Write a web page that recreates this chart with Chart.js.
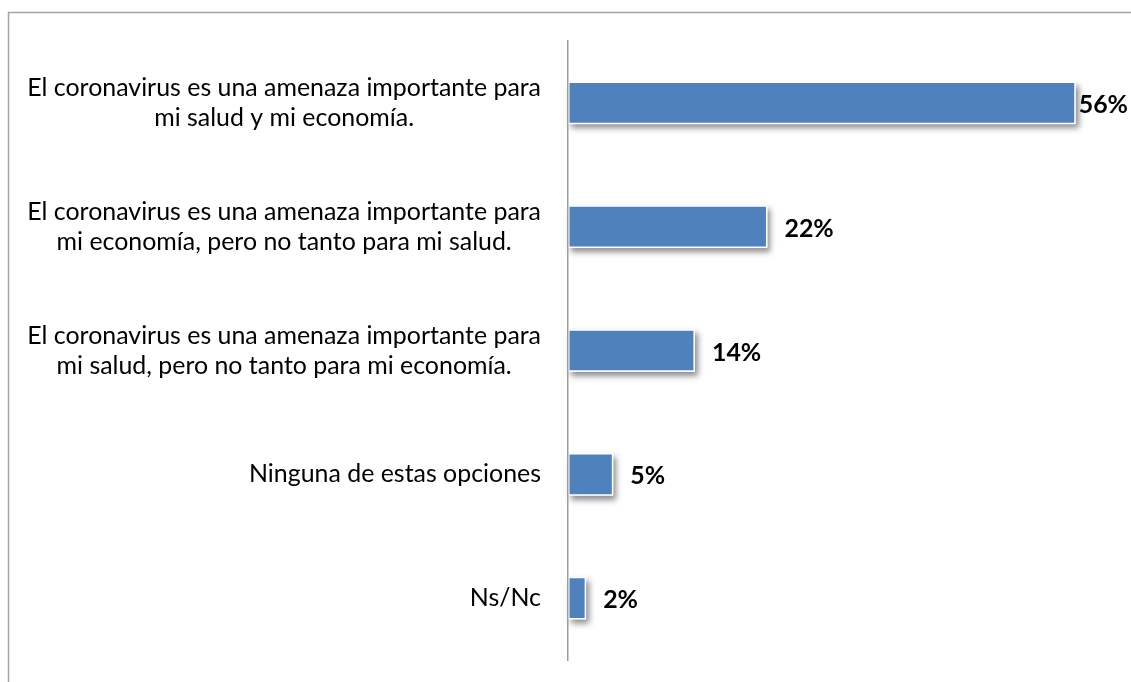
<!DOCTYPE html>
<html>
<head>
<meta charset="utf-8">
<script src="https://cdn.jsdelivr.net/npm/chart.js@4.4.1/dist/chart.umd.min.js"></script>
<style>
  html, body { margin: 0; padding: 0; background: #fff; }
  #wrap { width: 1131px; height: 682px; position: relative; }
</style>
</head>
<body>
<div id="wrap"><canvas id="c"></canvas></div>
<script>
// ---- data ----
const categories = [
  ["El coronavirus es una amenaza importante para", "mi salud y mi economía."],
  ["El coronavirus es una amenaza importante para", "mi economía, pero no tanto para mi salud."],
  ["El coronavirus es una amenaza importante para", "mi salud, pero no tanto para mi economía."],
  ["Ninguna de estas opciones"],
  ["Ns/Nc"]
];
const values = [56, 22, 14, 5, 2];
const valueLabels = values.map(v => v + '%');
const xMax = 60;

// ---- styling ----
const FONT_FAMILY = 'Lato, "Noto Sans", sans-serif';
const BAR_COLOR = '#4F81BD';
const AXIS_COLOR = '#9d9d9d';
const FRAME_COLOR = '#a3a3a3';

// pick a font size so that the longest label line is about as wide as in the reference
const mctx = document.createElement('canvas').getContext('2d');
mctx.font = '100px ' + FONT_FAMILY;
const wRef = mctx.measureText(categories[0][0]).width;
let fontSize = Math.max(20, Math.min(27, 514 / wRef * 100));
const LINE_H = 30;

const framePlugin = {
  id: 'frame',
  beforeDraw(chart) {
    const ctx = chart.ctx;
    ctx.save();
    ctx.strokeStyle = FRAME_COLOR;
    ctx.lineWidth = 1.5;
    ctx.beginPath();
    ctx.moveTo(8.5, chart.height);
    ctx.lineTo(8.5, 12.5);
    ctx.lineTo(chart.width, 12.5);
    ctx.stroke();
    ctx.restore();
  }
};

const shadowPlugin = {
  id: 'barShadow',
  beforeDatasetsDraw(chart) {
    const ctx = chart.ctx;
    const meta = chart.getDatasetMeta(0);
    ctx.save();
    ctx.shadowColor = 'rgba(0,0,0,0.45)';
    ctx.shadowBlur = 6;
    ctx.shadowOffsetX = 3;
    ctx.shadowOffsetY = 4;
    ctx.fillStyle = '#ffffff';
    meta.data.forEach(bar => {
      const p = bar.getProps(['x', 'y', 'base', 'height'], true);
      const left = Math.min(p.base, p.x), right = Math.max(p.base, p.x);
      ctx.fillRect(left, p.y - p.height / 2, right - left, p.height);
    });
    ctx.restore();
  }
};

const labelPlugin = {
  id: 'customLabels',
  afterDatasetsDraw(chart) {
    const ctx = chart.ctx;
    const yScale = chart.scales.y;
    const meta = chart.getDatasetMeta(0);
    ctx.save();
    // category labels: block right-aligned, lines centered within block
    ctx.font = fontSize + 'px ' + FONT_FAMILY;
    ctx.fillStyle = '#000';
    ctx.textBaseline = 'middle';
    ctx.textAlign = 'center';
    const rightX = chart.chartArea.left - 27;
    categories.forEach((lines, i) => {
      const cy = yScale.getPixelForTick(i);
      const blockW = Math.max(...lines.map(l => ctx.measureText(l).width));
      const cx = rightX - blockW / 2;
      lines.forEach((l, j) => {
        ctx.fillText(l, cx, cy + (j - (lines.length - 1) / 2) * LINE_H);
      });
    });
    // value labels
    ctx.font = 'bold ' + fontSize + 'px ' + FONT_FAMILY;
    ctx.textAlign = 'left';
    meta.data.forEach((bar, i) => {
      const t = valueLabels[i];
      const w = ctx.measureText(t).width;
      let x = bar.x + 17;
      if (x + w > chart.width - 3) x = chart.width - 3 - w;
      ctx.fillText(t, x, bar.y + 2);
    });
    ctx.restore();
  }
};

new Chart(document.getElementById('c'), {
  type: 'bar',
  data: {
    labels: categories,
    datasets: [{
      data: values,
      backgroundColor: BAR_COLOR,
      borderColor: '#ffffff',
      borderWidth: 1.5,
      borderSkipped: false,
      barPercentage: 0.345,
      categoryPercentage: 1
    }]
  },
  options: {
    indexAxis: 'y',
    responsive: true,
    maintainAspectRatio: false,
    animation: false,
    events: [],
    layout: { padding: { left: 0, top: 41, right: 19, bottom: 22 } },
    plugins: { legend: { display: false }, tooltip: { enabled: false } },
    scales: {
      x: {
        display: false,
        min: 0,
        max: xMax
      },
      y: {
        display: true,
        grid: { display: false, drawTicks: false },
        border: { display: true, color: AXIS_COLOR, width: 1.5, z: 1 },
        ticks: { display: false },
        afterFit(scale) { scale.width = 568; }
      }
    }
  },
  plugins: [framePlugin, shadowPlugin, labelPlugin]
});
</script>
</body>
</html>
